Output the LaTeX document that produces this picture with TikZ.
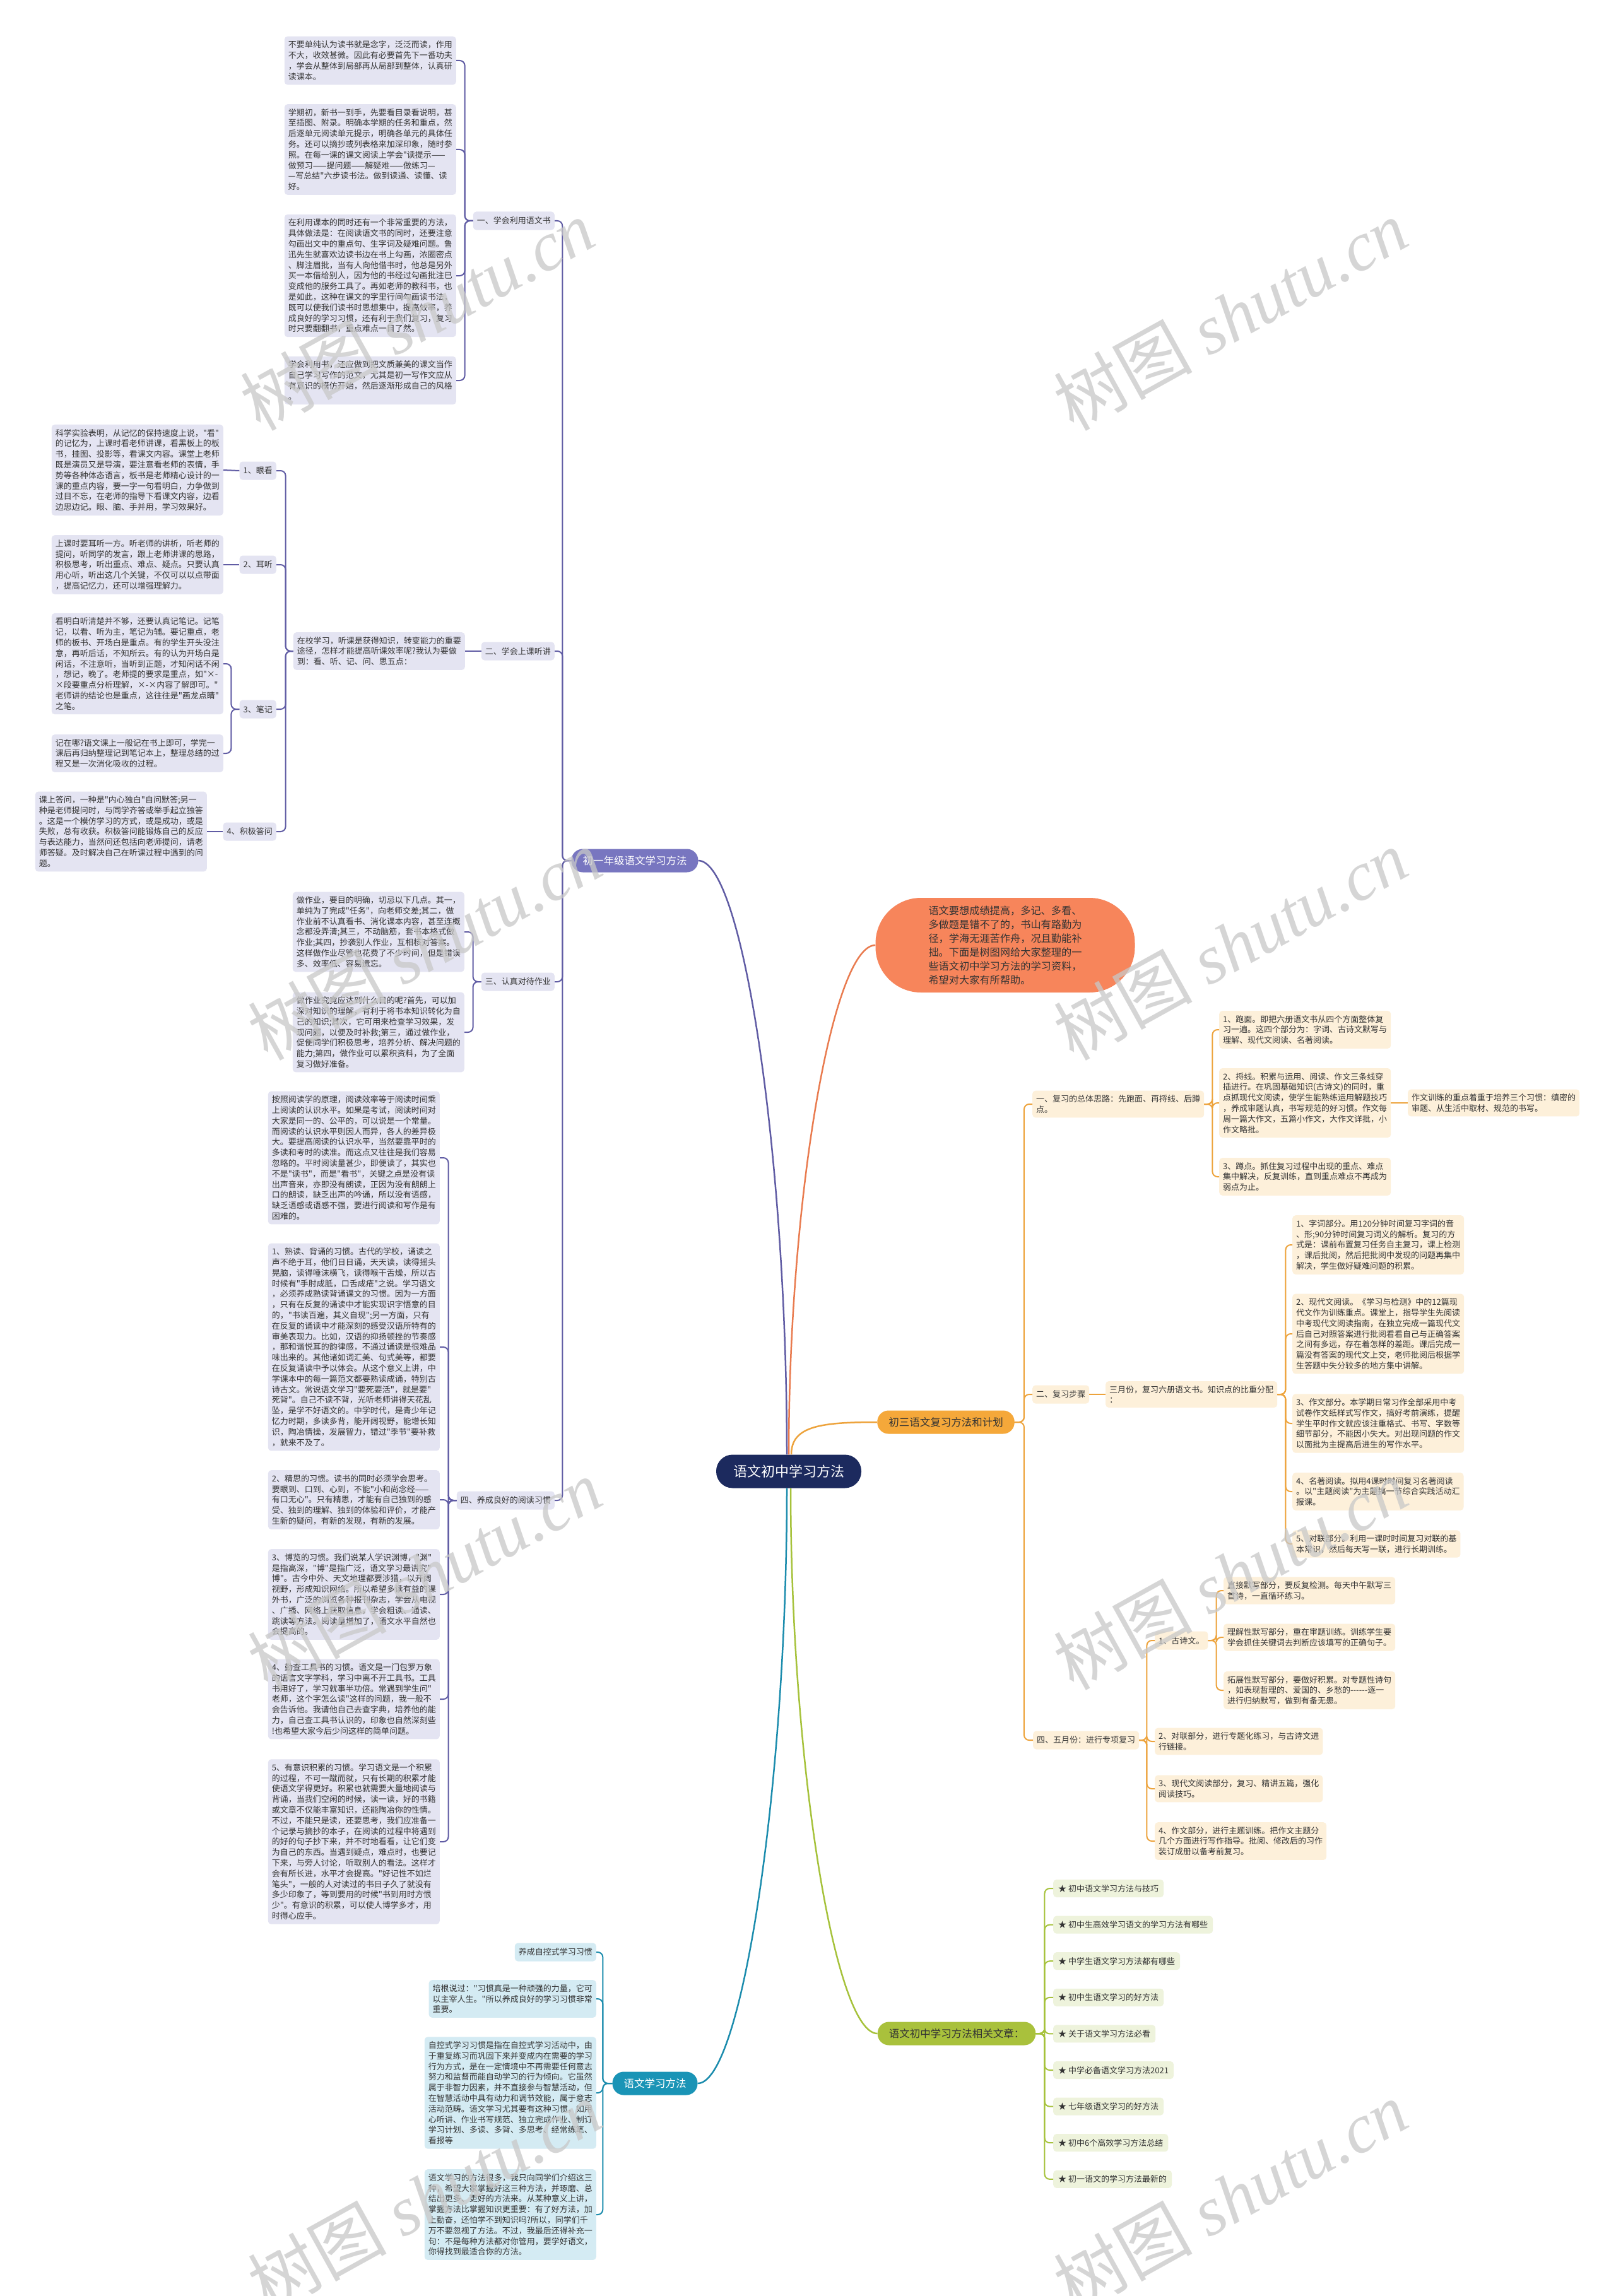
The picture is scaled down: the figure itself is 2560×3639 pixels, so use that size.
\documentclass[tikz,border=0pt]{standalone}
\usepackage{fontspec}
\usepackage{tikz}
\newfontfamily\cjk{Noto Sans CJK SC}
\newfontfamily\wmlatin{Liberation Serif}
\definecolor{rootnavy}{RGB}{28,42,94}
\definecolor{purplehead}{RGB}{120,118,192}
\definecolor{purpleline}{RGB}{96,92,164}
\definecolor{purplebox}{RGB}{228,228,242}
\definecolor{orangebubble}{RGB}{247,133,91}
\definecolor{orangeline}{RGB}{233,123,79}
\definecolor{goldhead}{RGB}{245,168,58}
\definecolor{goldline}{RGB}{237,163,60}
\definecolor{goldbox}{RGB}{253,240,218}
\definecolor{greenhead}{RGB}{169,193,60}
\definecolor{greenline}{RGB}{166,194,59}
\definecolor{greenbox}{RGB}{238,243,220}
\definecolor{tealhead}{RGB}{26,148,182}
\definecolor{tealline}{RGB}{27,140,173}
\definecolor{tealbox}{RGB}{212,235,243}
\definecolor{boxtext}{RGB}{51,51,51}
\definecolor{markgray}{RGB}{200,200,200}
\newcommand{\rootfont}{\cjk\fontsize{22}{26}\selectfont}
\newcommand{\headfont}{\cjk\fontsize{16.5}{20}\selectfont}
\newcommand{\txtfont}{\cjk\fontsize{13}{16.8}\selectfont}
\newcommand{\bubblefont}{\cjk\fontsize{16.2}{22}\selectfont}

\begin{document}
\begin{tikzpicture}[x=1pt, y=-1pt,
    rootnode/.style={fill=rootnavy, text=white, font=\rootfont, rounded corners=26pt, minimum height=53pt, inner xsep=27pt, inner ysep=0pt},
    headnode/.style={font=\headfont, rounded corners=18pt, minimum height=37pt, inner xsep=18pt, inner ysep=0pt},
    labnode/.style={font=\txtfont, text=boxtext, rounded corners=5pt, minimum height=29pt, inner xsep=6pt, inner ysep=0pt},
    txtnode/.style={font=\txtfont, text=boxtext, rounded corners=5pt, align=left, inner xsep=6pt, inner ysep=7pt},
    plab/.style={labnode, fill=purplebox},
    pbox/.style={txtnode, fill=purplebox},
    olab/.style={labnode, fill=goldbox},
    obox/.style={txtnode, fill=goldbox},
    tlab/.style={labnode, fill=tealbox},
    tbox/.style={txtnode, fill=tealbox},
    glab/.style={labnode, fill=greenbox, minimum height=28pt, inner xsep=8pt},
    pline/.style={draw=purpleline, line width=2pt, rounded corners=8pt},
    oline/.style={draw=goldline, line width=2pt, rounded corners=8pt},
    tline/.style={draw=tealline, line width=2pt, rounded corners=8pt},
    gline/.style={draw=greenline, line width=2pt, rounded corners=8pt},
    wmark/.style={text=markgray, text opacity=0.75, rotate=29, font=\cjk\fontsize{110}{110}\selectfont}
]
\useasboundingbox (0,0) rectangle (2560,3639);
\fill[white] (0,0) rectangle (2560,3639);

\node[rootnode] (root) at (1250,2332) {语文初中学习方法};

\node[headnode, fill=purplehead, text=white] (gone) at (1006,1364) {初一年级语文学习方法};
\node[fill=orangebubble, text=boxtext, font=\bubblefont, rounded corners=72pt, minimum width=411pt, minimum height=150pt, align=left, inner sep=0pt] (intro) at (1593,1498) {语文要想成绩提高，多记、多看、\\多做题是错不了的，书山有路勤为\\径，学海无涯苦作舟，况且勤能补\\拙。下面是树图网给大家整理的一\\些语文初中学习方法的学习资料，\\希望对大家有所帮助。};
\node[headnode, fill=goldhead, text=boxtext] (review) at (1499,2254) {初三语文复习方法和计划};
\node[headnode, fill=greenhead, text=boxtext] (related) at (1516,3223) {语文初中学习方法相关文章：};
\node[headnode, fill=tealhead, text=white] (habit) at (1038,3302) {语文学习方法};

\node[plab, anchor=east] (pA) at (879,350) {一、学会利用语文书};
\node[plab, anchor=east] (pB) at (879,1032) {二、学会上课听讲};
\node[plab, anchor=east] (pC) at (879,1556) {三、认真对待作业};
\node[plab, anchor=east] (pD) at (879,2378) {四、养成良好的阅读习惯};

\node[pbox, anchor=east] (pA1) at (723,96) {不要单纯认为读书就是念字，泛泛而读，作用\\不大，收效甚微。因此有必要首先下一番功夫\\，学会从整体到局部再从局部到整体，认真研\\读课本。};
\node[pbox, anchor=east] (pA2) at (723,237) {学期初，新书一到手，先要看目录看说明，甚\\至插图、附录。明确本学期的任务和重点，然\\后逐单元阅读单元提示，明确各单元的具体任\\务。还可以摘抄或列表格来加深印象，随时参\\照。在每一课的课文阅读上学会"读提示——\\做预习——提问题——解疑难——做练习—\\—写总结"六步读书法。做到读通、读懂、读\\好。};
\node[pbox, anchor=east] (pA3) at (723,437) {在利用课本的同时还有一个非常重要的方法，\\具体做法是：在阅读语文书的同时，还要注意\\勾画出文中的重点句、生字词及疑难问题。鲁\\迅先生就喜欢边读书边在书上勾画，浓圈密点\\、脚注眉批，当有人向他借书时，他总是另外\\买一本借给别人，因为他的书经过勾画批注已\\变成他的服务工具了。再如老师的教科书，也\\是如此，这种在课文的字里行间勾画读书法，\\既可以使我们读书时思想集中，提高效率，养\\成良好的学习习惯，还有利于我们复习，复习\\时只要翻翻书，重点难点一目了然。};
\node[pbox, anchor=east] (pA4) at (723,603) {学会利用书，还应做到把文质兼美的课文当作\\自己学习写作的范文，尤其是初一写作文应从\\有意识的模仿开始，然后逐渐形成自己的风格\\。};

\node[pbox, anchor=east] (pB0) at (737,1032) {在校学习，听课是获得知识，转变能力的重要\\途径，怎样才能提高听课效率呢?我认为要做\\到：看、听、记、问、思五点：};
\node[plab, anchor=east] (pB1) at (438,746) {1、眼看};
\node[plab, anchor=east] (pB2) at (438,895) {2、耳听};
\node[plab, anchor=east] (pB3) at (438,1124) {3、笔记};
\node[plab, anchor=east] (pB4) at (438,1318) {4、积极答问};
\node[pbox, anchor=east] (pB1t) at (354,745) {科学实验表明，从记忆的保持速度上说，"看"\\的记忆为，上课时看老师讲课，看黑板上的板\\书，挂图、投影等，看课文内容。课堂上老师\\既是演员又是导演，要注意看老师的表情，手\\势等各种体态语言，板书是老师精心设计的一\\课的重点内容，要一字一句看明白，力争做到\\过目不忘，在老师的指导下看课文内容，边看\\边思边记。眼、脑、手并用，学习效果好。};
\node[pbox, anchor=east] (pB2t) at (354,895) {上课时要耳听一方。听老师的讲析，听老师的\\提问，听同学的发言，跟上老师讲课的思路，\\积极思考，听出重点、难点、疑点。只要认真\\用心听，听出这几个关键，不仅可以以点带面\\，提高记忆力，还可以增强理解力。};
\node[pbox, anchor=east] (pB3t) at (354,1052) {看明白听清楚并不够，还要认真记笔记。记笔\\记，以看、听为主，笔记为辅。要记重点，老\\师的板书、开场白是重点。有的学生开头没注\\意，再听后话，不知所云。有的认为开场白是\\闲话，不注意听，当听到正题，才知闲话不闲\\，想记，晚了。老师提的要求是重点，如"×-\\×段要重点分析理解，×-×内容了解即可。"\\老师讲的结论也是重点，这往往是"画龙点睛"\\之笔。};
\node[pbox, anchor=east] (pB3u) at (354,1194) {记在哪?语文课上一般记在书上即可，学完一\\课后再归纳整理记到笔记本上，整理总结的过\\程又是一次消化吸收的过程。};
\node[pbox, anchor=east] (pB4t) at (328,1318) {课上答问，一种是"内心独白"自问默答;另一\\种是老师提问时，与同学齐答或举手起立独答\\。这是一个模仿学习的方式，或是成功，或是\\失败，总有收获。积极答问能锻炼自己的反应\\与表达能力，当然问还包括向老师提问，请老\\师答疑。及时解决自己在听课过程中遇到的问\\题。};

\node[pbox, anchor=east] (pC1) at (736,1477) {做作业，要目的明确，切忌以下几点。其一，\\单纯为了完成"任务"，向老师交差;其二，做\\作业前不认真看书、消化课本内容，甚至连概\\念都没弄清;其三，不动脑筋，套书本格式做\\作业;其四，抄袭别人作业，互相核对答案。\\这样做作业尽管也花费了不少时间，但是错误\\多、效率低、容易遗忘。};
\node[pbox, anchor=east] (pC2) at (736,1636) {做作业究竟应达到什么目的呢?首先，可以加\\深对知识的理解，有利于将书本知识转化为自\\己的知识;其次，它可用来检查学习效果，发\\现问题，以便及时补救;第三，通过做作业，\\促使同学们积极思考，培养分析、解决问题的\\能力;第四，做作业可以累积资料，为了全面\\复习做好准备。};

\node[pbox, anchor=east] (pD1) at (697,1835) {按照阅读学的原理，阅读效率等于阅读时间乘\\上阅读的认识水平。如果是考试，阅读时间对\\大家是同一的、公平的，可以说是一个常量。\\而阅读的认识水平则因人而异，各人的差异极\\大。要提高阅读的认识水平，当然要靠平时的\\多读和考时的读准。而这点又往往是我们容易\\忽略的。平时阅读量甚少，即便读了，其实也\\不是"读书"，而是"看书"，关键之点是没有读\\出声音来，亦即没有朗读，正因为没有朗朗上\\口的朗读，缺乏出声的吟诵，所以没有语感，\\缺乏语感或语感不强，要进行阅读和写作是有\\困难的。};
\node[pbox, anchor=east] (pD2) at (697,2135) {1、熟读、背诵的习惯。古代的学校，诵读之\\声不绝于耳，他们日日诵，天天读，读得摇头\\晃脑，读得唾沫横飞，读得喉干舌燥，所以古\\时候有"手肘成胝，口舌成疮"之说。学习语文\\，必须养成熟读背诵课文的习惯。因为一方面\\，只有在反复的诵读中才能实现识字悟意的目\\的，"书读百遍，其义自现";另一方面，只有\\在反复的诵读中才能深刻的感受汉语所特有的\\审美表现力。比如，汉语的抑扬顿挫的节奏感\\，那和谐悦耳的韵律感，不通过诵读是很难品\\味出来的。其他诸如词汇美、句式美等，都要\\在反复诵读中予以体会。从这个意义上讲，中\\学课本中的每一篇范文都要熟读成诵，特别古\\诗古文。常说语文学习"要死要活"，就是要"\\死背"。自己不读不背，光听老师讲得天花乱\\坠，是学不好语文的。中学时代，是青少年记\\忆力时期，多读多背，能开阔视野，能增长知\\识，陶冶情操，发展智力，错过"季节"要补救\\，就来不及了。};
\node[pbox, anchor=east] (pD3) at (697,2377) {2、精思的习惯。读书的同时必须学会思考。\\要眼到、口到、心到，不能"小和尚念经——\\有口无心"。只有精思，才能有自己独到的感\\受、独到的理解、独到的体验和评价，才能产\\生新的疑问，有新的发现，有新的发展。};
\node[pbox, anchor=east] (pD4) at (697,2527) {3、博览的习惯。我们说某人学识渊博，"渊"\\是指高深，"博"是指广泛，语文学习最讲究"\\博"。古今中外、天文地理都要涉猎，以开阔\\视野，形成知识网络。所以希望多读有益的课\\外书，广泛的浏览各种报刊杂志，学会从电视\\、广播、网络上获取信息，学会粗读、通读、\\跳读等方法。阅读量增加了，语文水平自然也\\会提高的。};
\node[pbox, anchor=east] (pD5) at (697,2693) {4、勤查工具书的习惯。语文是一门包罗万象\\的语言文字学科，学习中离不开工具书。工具\\书用好了，学习就事半功倍。常遇到学生问"\\老师，这个字怎么读"这样的问题，我一般不\\会告诉他。我请他自己去查字典，培养他的能\\力，自己查工具书认识的，印象也自然深刻些\\!也希望大家今后少问这样的简单问题。};
\node[pbox, anchor=east] (pD6) at (697,2919) {5、有意识积累的习惯。学习语文是一个积累\\的过程，不可一蹴而就，只有长期的积累才能\\使语文学得更好。积累也就需要大量地阅读与\\背诵，当我们空闲的时候，读一读，好的书籍\\或文章不仅能丰富知识，还能陶冶你的性情。\\不过，不能只是读，还要思考，我们应准备一\\个记录与摘抄的本子，在阅读的过程中将遇到\\的好的句子抄下来，并不时地看看，让它们变\\为自己的东西。当遇到疑点，难点时，也要记\\下来，与旁人讨论，听取别人的看法。这样才\\会有所长进，水平才会提高。"好记性不如烂\\笔头"，一般的人对读过的书日子久了就没有\\多少印象了，等到要用的时候"书到用时方恨\\少"。有意识的积累，可以使人博学多才，用\\时得心应手。};

\node[tlab, anchor=east] (tA) at (945,3094) {养成自控式学习习惯};
\node[tbox, anchor=east] (tB) at (945,3168) {培根说过："习惯真是一种顽强的力量，它可\\以主宰人生。"所以养成良好的学习习惯非常\\重要。};
\node[tbox, anchor=east] (tC) at (945,3317) {自控式学习习惯是指在自控式学习活动中，由\\于重复练习而巩固下来并变成内在需要的学习\\行为方式，是在一定情境中不再需要任何意志\\努力和监督而能自动学习的行为倾向。它虽然\\属于非智力因素，并不直接参与智慧活动，但\\在智慧活动中具有动力和调节效能，属于意志\\活动范畴。语文学习尤其要有这种习惯，如用\\心听讲、作业书写规范、独立完成作业、制订\\学习计划、多读、多背、多思考、经常练笔、\\看报等};
\node[tbox, anchor=east] (tD) at (945,3510) {语文学习的方法很多，我只向同学们介绍这三\\种，希望大家掌握好这三种方法，并琢磨、总\\结出更多、更好的方法来。从某种意义上讲，\\掌握方法比掌握知识更重要：有了好方法，加\\上勤奋，还怕学不到知识吗?所以，同学们千\\万不要忽视了方法。不过，我最后还得补充一\\句：不是每种方法都对你管用，要学好语文，\\你得找到最适合你的方法。};

\node[obox, anchor=west] (oA) at (1636,1750) {一、复习的总体思路：先跑面、再捋线、后蹲\\点。};
\node[obox, anchor=west] (oA1) at (1932,1632) {1、跑面。即把六册语文书从四个方面整体复\\习一遍。这四个部分为：字词、古诗文默写与\\理解、现代文阅读、名著阅读。};
\node[obox, anchor=west] (oA2) at (1932,1748) {2、捋线。积累与运用、阅读、作文三条线穿\\插进行。在巩固基础知识(古诗文)的同时，重\\点抓现代文阅读，使学生能熟练运用解题技巧\\，养成审题认真，书写规范的好习惯。作文每\\周一篇大作文，五篇小作文，大作文详批，小\\作文略批。};
\node[obox, anchor=west] (oA2x) at (2231,1748) {作文训练的重点着重于培养三个习惯：缜密的\\审题、从生活中取材、规范的书写。};
\node[obox, anchor=west] (oA3) at (1932,1865) {3、蹲点。抓住复习过程中出现的重点、难点\\集中解决，反复训练，直到重点难点不再成为\\弱点为止。};

\node[olab, anchor=west] (oB) at (1636,2210) {二、复习步骤};
\node[obox, anchor=west] (oB0) at (1752,2210) {三月份，复习六册语文书。知识点的比重分配\\：};
\node[obox, anchor=west] (oB1) at (2048,1973) {1、字词部分。用120分钟时间复习字词的音\\、形;90分钟时间复习词义的解析。复习的方\\式是：课前布置复习任务自主复习，课上检测\\，课后批阅，然后把批阅中发现的问题再集中\\解决，学生做好疑难问题的积累。};
\node[obox, anchor=west] (oB2) at (2048,2114) {2、现代文阅读。《学习与检测》中的12篇现\\代文作为训练重点。课堂上，指导学生先阅读\\中考现代文阅读指南，在独立完成一篇现代文\\后自己对照答案进行批阅看看自己与正确答案\\之间有多远，存在着怎样的差距。课后完成一\\篇没有答案的现代文上交，老师批阅后根据学\\生答题中失分较多的地方集中讲解。};
\node[obox, anchor=west] (oB3) at (2048,2256) {3、作文部分。本学期日常习作全部采用中考\\试卷作文纸样式写作文，搞好考前演练，提醒\\学生平时作文就应该注重格式、书写、字数等\\细节部分，不能因小失大。对出现问题的作文\\以面批为主提高后进生的写作水平。};
\node[obox, anchor=west] (oB4) at (2048,2364) {4、名著阅读。拟用4课时时间复习名著阅读\\。以"主题阅读"为主题搞一节综合实践活动汇\\报课。};
\node[obox, anchor=west] (oB5) at (2048,2447) {5、对联部分。利用一课时时间复习对联的基\\本常识，然后每天写一联，进行长期训练。};

\node[olab, anchor=west] (oC) at (1637,2758) {四、五月份：进行专项复习};
\node[olab, anchor=west] (oC1) at (1830,2600) {1、古诗文。};
\node[obox, anchor=west] (oC1a) at (1939,2521) {直接默写部分，要反复检测。每天中午默写三\\首诗，一直循环练习。};
\node[obox, anchor=west] (oC1b) at (1939,2595) {理解性默写部分，重在审题训练。训练学生要\\学会抓住关键词去判断应该填写的正确句子。};
\node[obox, anchor=west] (oC1c) at (1939,2679) {拓展性默写部分，要做好积累。对专题性诗句\\，如表现哲理的、爱国的、乡愁的-{}-{}-{}-{}-{}-逐一\\进行归纳默写，做到有备无患。};
\node[obox, anchor=west] (oC2) at (1830,2760) {2、对联部分，进行专题化练习，与古诗文进\\行链接。};
\node[obox, anchor=west] (oC3) at (1830,2835) {3、现代文阅读部分，复习、精讲五篇，强化\\阅读技巧。};
\node[obox, anchor=west] (oC4) at (1830,2918) {4、作文部分，进行主题训练。把作文主题分\\几个方面进行写作指导。批阅、修改后的习作\\装订成册以备考前复习。};

\foreach \t [count=\k] in {初中语文学习方法与技巧, 初中生高效学习语文的学习方法有哪些, 中学生语文学习方法都有哪些, 初中生语文学习的好方法, 关于语文学习方法必看, 中学必备语文学习方法2021, 七年级语文学习的好方法, 初中6个高效学习方法总结, 初一语文的学习方法最新的}
  \node[glab, anchor=west] (g\k) at (1669,{2935.4+57.6*\k}) {★ \t};

\draw[draw=purpleline, line width=2.5pt] (gone.east) .. controls +(71,0) and +(0,-470) .. ([xshift=-3pt]root.north);
\draw[draw=orangeline, line width=2.5pt] (intro.west) .. controls +(-68,0) and +(0,-403) .. (root.north);
\draw[draw=goldline, line width=2.5pt] (review.west) .. controls +(-90,0) and +(0,-45) .. ([xshift=4pt]root.north);
\draw[draw=tealline, line width=2.5pt] ([xshift=-3pt]root.south) .. controls +(0,470) and +(70,0) .. (habit.east);
\draw[draw=greenline, line width=2.5pt] ([xshift=3pt]root.south) .. controls +(0,430) and +(-68,0) .. (related.west);

\foreach \c in {pA,pB,pC,pD}
  \draw[pline] (gone.west) -- ++(-14,0) |- (\c.east);
\foreach \c in {pA1,pA2,pA3,pA4}
  \draw[pline] (pA.west) -- ++(-13,0) |- (\c.east);
\draw[pline] (pB.west) -- (pB0.east);
\foreach \c in {pB1,pB2,pB3,pB4}
  \draw[pline] (pB0.west) -- ++(-12,0) |- (\c.east);
\draw[pline] (pB1.west) -- (pB1t.east);
\draw[pline] (pB2.west) -- (pB2t.east);
\foreach \c in {pB3t,pB3u}
  \draw[pline] (pB3.west) -- ++(-13,0) |- (\c.east);
\draw[pline] (pB4.west) -- (pB4t.east);
\foreach \c in {pC1,pC2}
  \draw[pline] (pC.west) -- ++(-13,0) |- (\c.east);
\foreach \c in {pD1,pD2,pD3,pD4,pD5,pD6}
  \draw[pline] (pD.west) -- ++(-13,0) |- (\c.east);

\foreach \c in {tA,tB,tC,tD}
  \draw[tline] (habit.west) -- ++(-15,0) |- (\c.east);

\foreach \c in {oA,oB,oC}
  \draw[oline] (review.east) -- ++(15,0) |- (\c.west);
\foreach \c in {oA1,oA2,oA3}
  \draw[oline] (oA.east) -- ++(13,0) |- (\c.west);
\draw[oline] (oA2.east) -- (oA2x.west);
\draw[oline] (oB.east) -- (oB0.west);
\foreach \c in {oB1,oB2,oB3,oB4,oB5}
  \draw[oline] (oB0.east) -- ++(13,0) |- (\c.west);
\foreach \c in {oC1,oC2,oC3,oC4}
  \draw[oline] (oC.east) -- ++(12,0) |- (\c.west);
\foreach \c in {oC1a,oC1b,oC1c}
  \draw[oline] (oC1.east) -- ++(13,0) |- (\c.west);

\foreach \k in {1,...,9}
  \draw[gline] (related.east) -- ++(14,0) |- (g\k.west);

\foreach \wx/\wy [count=\m] in {661/499, 1950/499, 673/1497, 1950/1497, 673/2495, 1950/2495, 673/3481, 1950/3481}
  \node[wmark] (mark\m) at (\wx,\wy) {树图 {\wmlatin\itshape shutu.cn}};
\end{tikzpicture}
\end{document}
